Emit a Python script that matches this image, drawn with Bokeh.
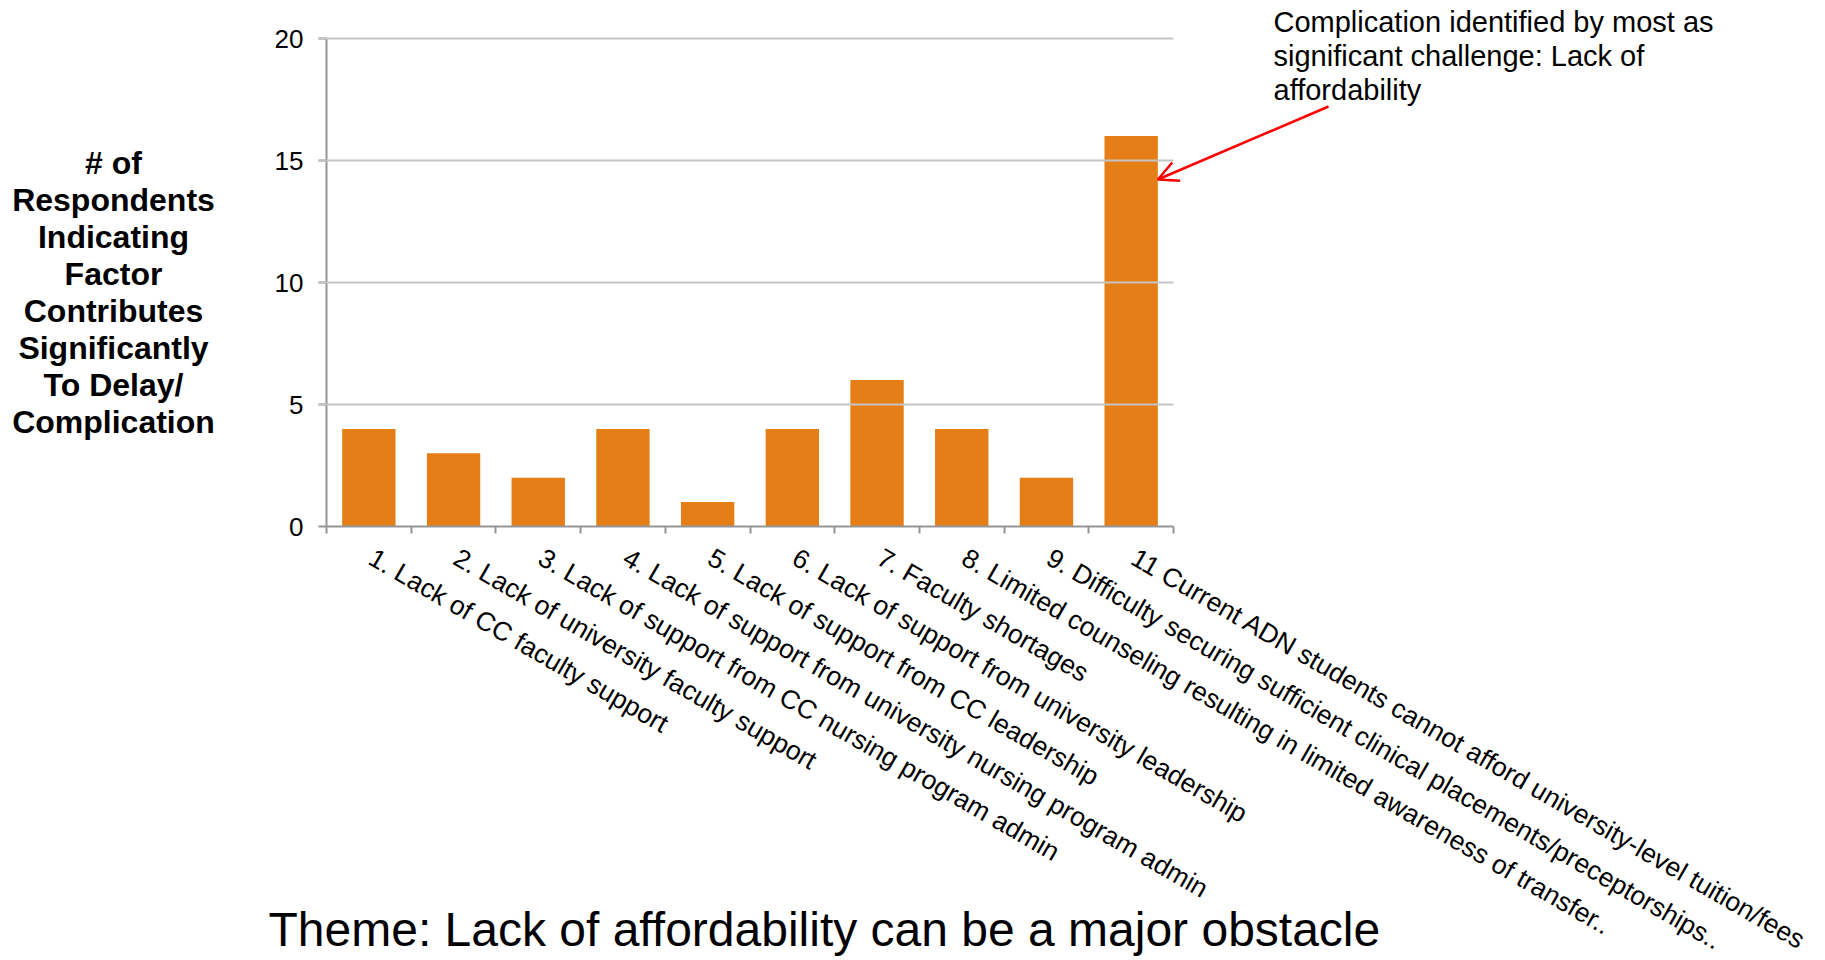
from bokeh.plotting import figure
from bokeh.models import (Range1d, FixedTicker, Label, LabelSet, ColumnDataSource,
                          Arrow, OpenHead, LinearAxis)
from bokeh.core.properties import value
from bokeh.embed import file_html
from bokeh.resources import INLINE

# ---- data -------------------------------------------------------------
categories = [
    "1. Lack of CC faculty support",
    "2. Lack of university faculty support",
    "3. Lack of support from CC nursing program admin",
    "4. Lack of support from university nursing program admin",
    "5. Lack of support from CC leadership",
    "6. Lack of support from university leadership",
    "7. Faculty shortages",
    "8. Limited counseling resulting in limited awareness of transfer..",
    "9. Difficulty securing sufficient clinical placements/preceptorships..",
    "11 Current ADN students cannot afford university-level tuition/fees",
]
counts = [4, 3, 2, 4, 1, 4, 6, 4, 2, 16]
y_ticks = [0, 5, 10, 15, 20]

y_title_lines = ["# of", "Respondents", "Indicating", "Factor", "Contributes",
                 "Significantly", "To Delay/", "Complication"]
callout_lines = ["Complication identified by most as",
                 "significant challenge: Lack of",
                 "affordability"]
theme_text = "Theme: Lack of affordability can be a major obstacle"

# ---- layout -----------------------------------------------------------
W, H = 1825, 960
FL, FR, FT, FB = 326, 1173, 38, 526          # chart area edges in pixels
FONT = "Liberation Sans"
BAR_COLOR = "#E67E17"
AXIS_COLOR = "#959595"
GRID_COLOR = "#C4C4C4"
BAR_WIDTH = 0.63

n = len(categories)
x_lo, x_hi = 0, n
y_lo, y_hi = y_ticks[0], y_ticks[-1]
px_x = (FR - FL) / (x_hi - x_lo)
px_y = (FB - FT) / (y_hi - y_lo)


def dx(sx):
    """screen x (px from left) -> data x"""
    return x_lo + (sx - FL) / px_x


def dy(sy):
    """screen y (px from top) -> data y"""
    return y_lo + (FB - sy) / px_y


# the frame fills the whole canvas so that the surrounding texts are not clipped;
# the axes sit at fixed data locations inside it
p = figure(width=W, height=H, output_backend="svg", toolbar_location=None,
           x_range=Range1d(dx(0), dx(W)), y_range=Range1d(dy(H), dy(0)),
           x_axis_location=None, y_axis_location=None, min_border=0)
p.outline_line_color = None
p.background_fill_color = "white"
p.border_fill_color = "white"
p.grid.visible = False

# bars, centred in each category slot
xs = [i + 0.5 for i in range(n)]
p.vbar(x=xs, top=counts, width=BAR_WIDTH, bottom=0, fill_color=BAR_COLOR,
       line_color=None)

# x axis: ticks on category boundaries, labels drawn separately
xax = LinearAxis(fixed_location=y_lo, bounds=(x_lo, x_hi),
                 ticker=FixedTicker(ticks=list(range(n + 1))))
xax.minor_tick_line_color = None
xax.major_tick_in = 0
xax.major_tick_out = 7
xax.major_tick_line_color = AXIS_COLOR
xax.major_tick_line_width = 2
xax.axis_line_color = AXIS_COLOR
xax.axis_line_width = 2
xax.major_label_text_color = None
p.add_layout(xax, "below")

# y axis: minor ticks run across the chart and act as the horizontal grid
yax = LinearAxis(fixed_location=x_lo, bounds=(y_lo, y_hi),
                 ticker=FixedTicker(ticks=y_ticks, minor_ticks=y_ticks[1:]))
yax.major_tick_in = 0
yax.major_tick_out = 8
yax.major_tick_line_color = AXIS_COLOR
yax.major_tick_line_width = 2
yax.minor_tick_in = FR - FL
yax.minor_tick_out = 8
yax.minor_tick_line_color = GRID_COLOR
yax.minor_tick_line_width = 2
yax.axis_line_color = AXIS_COLOR
yax.axis_line_width = 2
yax.major_label_text_font = FONT
yax.major_label_text_font_size = "26px"
yax.major_label_text_color = "black"
yax.major_label_standoff = 15
p.add_layout(yax, "left")

# rotated category labels, starting just below the centre of each slot
lab_src = ColumnDataSource(dict(x=[x + 10 / px_x for x in xs],
                                y=[dy(FB + 16)] * n, text=categories))
p.add_layout(LabelSet(x="x", y="y", text="text", source=lab_src,
                      angle=-30, angle_units="deg",
                      text_align="left", text_baseline="top",
                      text_font=value(FONT), text_font_size=value("26.5px"),
                      text_color="black"))

# vertical axis title (horizontal, bold, stacked lines)
p.add_layout(Label(x=dx(113), y=dy(292), text="\n".join(y_title_lines),
                   text_align="center", text_baseline="middle",
                   text_font=FONT, text_font_size="32px",
                   text_font_style="bold", text_color="black",
                   text_line_height=1.03))

# call-out text and arrow pointing at the tallest bar
p.add_layout(Label(x=dx(1273), y=dy(5), text="\n".join(callout_lines),
                   text_align="left", text_baseline="top",
                   text_font=FONT, text_font_size="29px", text_color="black",
                   text_line_height=1.07))

top_i = counts.index(max(counts))
p.add_layout(Arrow(end=OpenHead(size=20, line_color="#FF0000", line_width=2.5),
                   x_start=dx(1328), y_start=dy(106),
                   x_end=xs[top_i] + BAR_WIDTH / 2, y_end=dy(179),
                   line_color="#FF0000", line_width=2.5))

# theme line at the bottom
p.add_layout(Label(x=dx(268), y=dy(929), text=theme_text,
                   text_align="left", text_baseline="alphabetic",
                   text_font=FONT, text_font_size="48px", text_color="black"))

open("out.html", "w").write(file_html(p, INLINE))
